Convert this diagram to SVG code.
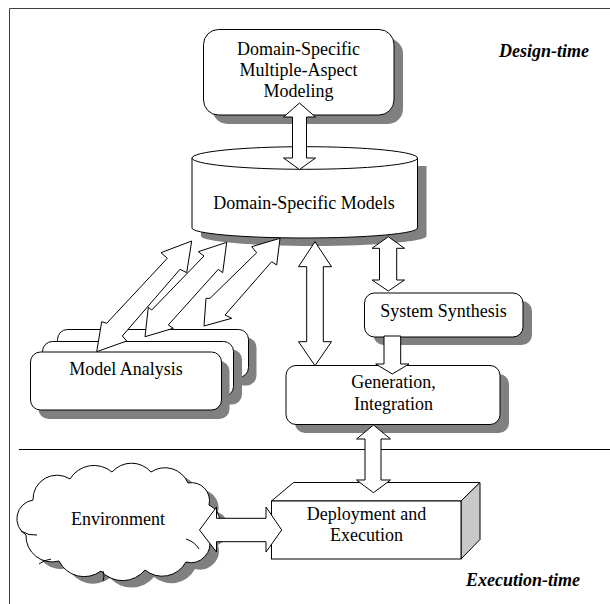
<svg xmlns="http://www.w3.org/2000/svg" width="610" height="604" viewBox="0 0 610 604" font-family="'Liberation Serif', 'Times New Roman', Times, serif">
<style>
.s{fill:#808080;stroke:none}
.n{fill:#fff;stroke:#000;stroke-width:1}
.ln{fill:none;stroke:#000;stroke-width:1}
.ar{fill:#fff;stroke:#000;stroke-width:1;stroke-linejoin:miter}
text{font-family:'Liberation Serif', 'Times New Roman', Times, serif;font-size:18px;fill:#000}
.c{text-anchor:middle}
.lbl{font-weight:bold;font-style:italic}
</style>
<defs>
<path id="cyl" d="M192,158 V228 A112.75,10 0 0 0 417.5,228 V158 Z"/>
<path id="cloud" d="M26,535 A19,19 0 0 1 33,500 A24,24 0 0 1 70,479 A28,28 0 0 1 112,472 A26,26 0 0 1 151,472 A25,25 0 0 1 188,483 A18,18 0 0 1 209,505 A18,18 0 0 1 209,538 A19,19 0 0 1 186,562 A27,27 0 0 1 145,570 A29,29 0 0 1 101,571 A28,28 0 0 1 59,561 A26,26 0 0 1 26,535 Z"/>
</defs>

<g id="frame">
<line x1="9.5" y1="8.5" x2="610" y2="8.5" stroke="#404040" stroke-width="1"/>
<line x1="9.5" y1="8.5" x2="9.5" y2="604" stroke="#404040" stroke-width="1"/>
<line x1="19" y1="449.5" x2="610" y2="449.5" stroke="#000" stroke-width="1"/>
</g>

<g id="labels">
<text class="lbl" x="499" y="57">Design-time</text>
<text class="lbl" x="466" y="586">Execution-time</text>
</g>

<g id="node-modeling">
<rect class="s" x="212.5" y="38.5" width="190.5" height="85.5" rx="15"/>
<rect class="n" x="203.5" y="29.5" width="190.5" height="85.5" rx="15"/>
<text class="c" x="298.5" y="55">Domain-Specific</text>
<text class="c" x="298.5" y="76">Multiple-Aspect</text>
<text class="c" x="298.5" y="97">Modeling</text>
</g>

<g id="node-models">
<use href="#cyl" class="s" transform="translate(9,8)"/>
<use href="#cyl" class="n"/>
<ellipse class="n" cx="304.75" cy="158" rx="112.75" ry="11.3"/>
<text class="c" x="304" y="209">Domain-Specific Models</text>
</g>

<g id="node-analysis">
<rect class="s" x="65.5" y="337.5" width="191" height="48" rx="10"/>
<rect class="n" x="57.5" y="329.5" width="191" height="48" rx="10"/>
<rect class="s" x="51" y="349.5" width="191" height="55" rx="10"/>
<rect class="n" x="42.5" y="341.5" width="191" height="55" rx="10"/>
<rect class="s" x="38.5" y="361" width="191" height="58" rx="10"/>
<rect class="n" x="30.5" y="352" width="191" height="58" rx="10"/>
<text class="c" x="126" y="375">Model Analysis</text>
</g>

<g id="node-synthesis">
<rect class="s" x="373.5" y="301" width="158.5" height="44" rx="10"/>
<rect class="n" x="364.5" y="293" width="158.5" height="44" rx="10"/>
<text class="c" x="443.5" y="317">System Synthesis</text>
</g>

<g id="node-generation">
<rect class="s" x="295" y="374" width="214" height="59" rx="10"/>
<rect class="n" x="286" y="365.5" width="214" height="59" rx="10"/>
<text class="c" x="393.5" y="388">Generation,</text>
<text class="c" x="393.5" y="410">Integration</text>
</g>

<g id="node-deployment">
<polygon class="n" points="271.5,501 293.5,482.5 480,482.5 461,501"/>
<polygon points="461,501 480,482.5 480,539.5 461,559" fill="#c8c8c8" stroke="#000" stroke-width="1"/>
<rect class="n" x="271.5" y="501" width="189.5" height="58"/>
<text class="c" x="366.5" y="520">Deployment and</text>
<text class="c" x="366.5" y="541">Execution</text>
</g>

<g id="node-environment">
<use href="#cloud" class="s" transform="translate(9,7)"/>
<use href="#cloud" class="n"/>
<path class="ln" d="M21,531 q8,5 16,4"/>
<path class="ln" d="M39,564 q5,-4 12,-5"/>
<path class="ln" d="M186,539 q9,3 13,10"/>
<path class="ln" d="M103,571 q2,5 0,10"/>
<text class="c" x="118" y="525">Environment</text>
</g>

<g id="connectors">
<polygon class="ar" points="299.5,103 315.5,117 306.5,117 306.5,158 315.5,158 299.5,169.5 283.5,158 292.5,158 292.5,117 283.5,117"/>
<polygon class="ar" points="191.7,241 161,252.7 167.3,258.3 106.7,323.3 101.7,321.7 96.7,351.7 126.7,341 122.3,336 180,269.3 186.7,272.7"/>
<polygon class="ar" points="226.7,242.3 198.3,251.7 204,256 151.7,310 148.3,307.3 145,336.7 173.3,328.3 168.3,325 218.3,269.3 222.7,272.7"/>
<polygon class="ar" points="280,238.3 251.7,246.7 256.7,252.7 210,298.3 206,298.3 204,326 231.7,318.3 225,315 271.7,261.7 276.7,265"/>
<polygon class="ar" points="315,241.7 331.5,266.7 323.3,266.7 323.3,341.7 331.5,341.7 315,365.7 298.5,341.7 306.7,341.7 306.7,266.7 298.5,266.7"/>
<polygon class="ar" points="388.3,236.7 404.5,248.3 396.7,248.3 396.7,280 404.5,280 388.3,291 372,280 379.5,280 379.5,248.3 372,248.3"/>
<polygon class="ar" points="384,336 400.7,336 400.7,364 409,364 392.3,374 375.7,364 384,364"/>
<polygon class="ar" points="373.5,425 390.5,439 381,439 381,480 390.5,480 373.5,492.7 356.5,480 365,480 365,439 356.5,439"/>
<polygon class="ar" points="199.5,530 216.5,507 216.5,518.3 266,518.3 266,507 281.7,530 266,552 266,541.7 216.5,541.7 216.5,552"/>
</g>
</svg>
